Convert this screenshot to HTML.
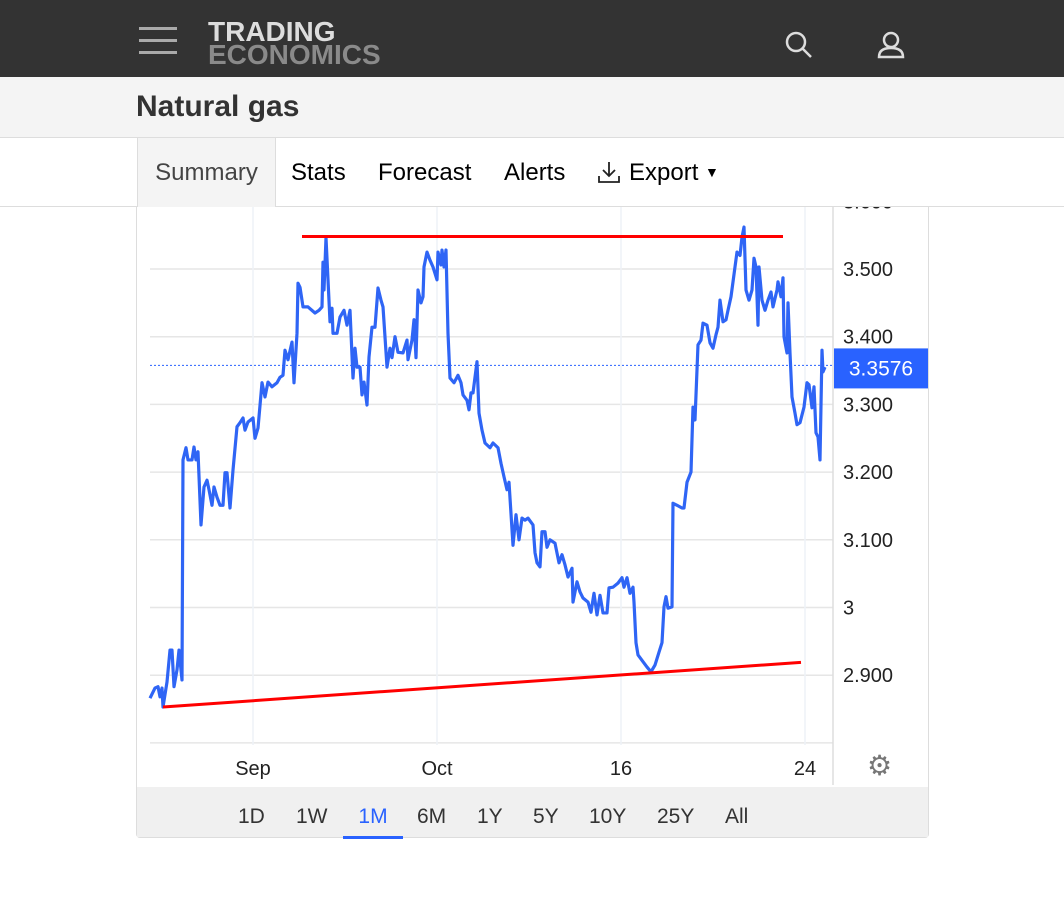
<!DOCTYPE html>
<html><head><meta charset="utf-8">
<style>
body{margin:0;width:1064px;height:901px;background:#fff;font-family:"Liberation Sans",Arial,sans-serif;position:relative;overflow:hidden}
.abs{position:absolute}
</style></head><body>
<div class="abs" style="left:0;top:0;width:1064px;height:77px;background:#333"></div>
<div class="abs" style="left:139px;top:27px;width:38px;height:30px">
 <div style="height:3px;background:#aaa;margin-bottom:9px"></div><div style="height:3px;background:#aaa;margin-bottom:9px"></div><div style="height:3px;background:#aaa"></div></div>
<div class="abs" style="left:208px;top:20px;font-weight:bold;font-size:28px;line-height:23px;letter-spacing:0px"><div style="color:#ddd">TRADING</div><div style="color:#8a8a8a">ECONOMICS</div></div>
<svg class="abs" style="left:784px;top:30px" width="30" height="30"><circle cx="12" cy="12" r="9" fill="none" stroke="#ddd" stroke-width="2.5"/><line x1="19" y1="19" x2="27" y2="27" stroke="#ddd" stroke-width="2.5"/></svg>
<svg class="abs" style="left:876px;top:30px" width="30" height="30"><circle cx="15" cy="10" r="7" fill="none" stroke="#ddd" stroke-width="2.5"/><path d="M3 27 Q3 18 15 18 Q27 18 27 27 Z" fill="none" stroke="#ddd" stroke-width="2.5"/></svg>
<div class="abs" style="left:0;top:77px;width:1064px;height:60px;background:#f4f4f4;border-bottom:1px solid #ddd"></div>
<div class="abs" style="left:136px;top:90px;font-size:30px;font-weight:bold;color:#333">Natural gas</div>
<div class="abs" style="left:0;top:206px;width:1064px;height:1px;background:#ddd"></div>
<div class="abs" style="left:137px;top:138px;width:137px;height:69px;background:#f4f4f4;border-left:1px solid #ddd;border-right:1px solid #ddd;font-size:24px;color:#444;text-align:center;line-height:70px">Summary</div>
<div class="abs" style="left:291px;top:159px;font-size:24px">Stats</div>
<div class="abs" style="left:378px;top:159px;font-size:24px">Forecast</div>
<div class="abs" style="left:504px;top:159px;font-size:24px">Alerts</div>
<svg class="abs" style="left:597px;top:160px" width="26" height="26"><path d="M12 2 V16 M6 10 L12 16 L18 10 M2 16 V22 H22 V16" fill="none" stroke="#222" stroke-width="1.8"/></svg>
<div class="abs" style="left:629px;top:159px;font-size:24px">Export <span style="font-size:14px;vertical-align:3px">▼</span></div>
<div class="abs" style="left:136px;top:207px;width:791px;height:630px;border:1px solid #ddd;border-top:none;border-radius:0 0 4px 4px"></div>
<div class="abs" style="left:137px;top:787px;width:791px;height:50px;background:#f0f0f0"></div>
<svg id="chart" class="abs" style="left:0;top:0" width="1064" height="901"></svg>
<script>
const times=[0,5,8,10,12,13,17,20,22,24,27,29,32,33,36,38,42,44,46,48,51,54,57,59,62,64,67,70,73,75,77,80,83,87,90,93,95,98,103,105,108,112,115,118,122,127,130,133,135,138,142,144,147,148,150,153,158,165,169,172,173,174,176,178,180,182,183,187,190,194,197,200,203,205,207,210,212,214,217,219,222,225,228,231,233,237,240,242,245,248,253,257,258,262,264,266,268,271,273,274,277,280,283,287,288,291,292,294,296,298,300,304,308,311,313,317,319,321,323,327,329,332,335,340,343,348,351,354,357,359,363,366,369,372,375,378,383,385,387,390,392,395,397,400,405,409,412,415,418,422,423,427,430,433,438,441,444,447,450,453,457,459,463,468,472,474,477,480,483,484,486,488,493,497,501,505,509,512,514,516,518,522,523,527,532,534,537,541,543,545,548,551,553,557,560,563,566,568,570,573,576,578,581,583,585,587,590,592,594,596,599,602,604,606,608,609,612,615,618,621,623,627,628,631,633,634,637,638,640,642,645,647,650,654,657,659,662,664,666,668,670,672,673,675];
const prices=[2.866,2.881,2.883,2.868,2.881,2.853,2.890,2.937,2.937,2.883,2.908,2.937,2.893,3.218,3.236,3.218,3.218,3.237,3.218,3.230,3.122,3.178,3.188,3.174,3.151,3.178,3.163,3.151,3.151,3.199,3.199,3.147,3.203,3.267,3.273,3.280,3.262,3.274,3.280,3.250,3.265,3.332,3.311,3.333,3.326,3.332,3.340,3.343,3.380,3.366,3.392,3.332,3.405,3.479,3.473,3.444,3.444,3.435,3.439,3.444,3.510,3.469,3.546,3.484,3.422,3.442,3.405,3.405,3.429,3.439,3.417,3.439,3.339,3.383,3.355,3.355,3.314,3.333,3.299,3.370,3.414,3.414,3.472,3.454,3.444,3.355,3.383,3.369,3.400,3.377,3.376,3.395,3.366,3.395,3.425,3.369,3.469,3.450,3.459,3.503,3.525,3.513,3.503,3.484,3.525,3.506,3.528,3.503,3.528,3.405,3.339,3.332,3.343,3.332,3.314,3.306,3.292,3.317,3.317,3.363,3.287,3.262,3.243,3.236,3.243,3.236,3.213,3.193,3.174,3.185,3.092,3.137,3.100,3.132,3.129,3.132,3.122,3.081,3.066,3.060,3.112,3.112,3.089,3.100,3.095,3.066,3.078,3.063,3.045,3.058,3.008,3.038,3.023,3.014,3.008,2.993,3.021,2.989,3.018,2.992,2.992,3.029,3.030,3.036,3.044,3.030,3.044,3.021,3.030,3.008,2.948,2.930,2.920,2.912,2.905,2.915,2.934,2.948,3.001,3.016,2.999,3.001,3.154,3.151,3.147,3.147,3.185,3.200,3.296,3.277,3.388,3.395,3.420,3.417,3.391,3.383,3.403,3.414,3.454,3.422,3.425,3.439,3.459,3.481,3.503,3.525,3.520,3.547,3.562,3.469,3.454,3.469,3.516,3.503,3.417,3.503,3.454,3.439,3.454,3.466,3.444,3.469,3.481,3.459,3.487,3.400,3.376,3.450,3.376,3.311,3.287,3.270,3.273,3.296,3.332,3.329,3.295,3.326,3.258,3.252,3.218,3.380,3.348,3.355];
const yTicks=[3.6,3.5,3.4,3.3,3.2,3.1,3.0,2.9,2.8];
const yTickLabels=["3.600","3.500","3.400","3.300","3.200","3.100","3","2.900",""];
const xTicks=[103,287,471,655];
const xTickLabels=["Sep","Oct","16","24"];
const lastPrice=3.3576;
const resistance=[[152,3.548],[633,3.548]];
const support=[[13,2.853],[651,2.919]];
const NS="http://www.w3.org/2000/svg";
const svg=document.getElementById('chart');
const X=t=>150+t;
const Y=v=>269+(3.5-v)*677;
function mk(tag,at,parent){const e=document.createElementNS(NS,tag);for(const k in at)e.setAttribute(k,at[k]);(parent||svg).appendChild(e);return e;}
const clip=mk('clipPath',{id:'cp'});mk('rect',{x:137,y:207,width:790,height:580},clip);
const g=mk('g',{'clip-path':'url(#cp)'});
yTicks.forEach((v,i)=>{
 const l=mk('line',{x1:150,x2:833,y1:Y(v),y2:Y(v),stroke:'#e6e6e6','stroke-width':1.5},g);
 
 
 const t=mk('text',{x:843,y:Y(v)+7,'font-size':20,fill:'#222','font-family':'Liberation Sans'},g);
 t.textContent=yTickLabels[i];
 
 
});
xTicks.forEach((tt,i)=>{
 const l=mk('line',{x1:X(tt),x2:X(tt),y1:207,y2:745,stroke:'#eef2f7','stroke-width':1.5},g);
 
 
 const t=mk('text',{x:X(tt),y:775,'font-size':20,fill:'#222','text-anchor':'middle','font-family':'Liberation Sans'},g);
 t.textContent=xTickLabels[i];
 
 
});
const ax=mk('line',{x1:833,x2:833,y1:207,y2:785,stroke:'#ddd','stroke-width':1.5},g);


const ll=mk('line',{x1:150,x2:833,y1:Y(lastPrice),y2:Y(lastPrice),stroke:'#2962ff','stroke-width':1,'stroke-dasharray':'2,2'},g);


const pl=mk('polyline',{points:times.map((t,i)=>X(t)+','+Y(prices[i])).join(' '),fill:'none',stroke:'#2f65f5','stroke-width':3.2,'stroke-linejoin':'round'},g);


[[resistance,'resistance-line'],[support,'support-line']].forEach(([p,n])=>{
 const l=mk('line',{x1:X(p[0][0]),y1:Y(p[0][1]),x2:X(p[1][0]),y2:Y(p[1][1]),stroke:'#ff0000','stroke-width':3},g);
 
 
});
const bx=mk('rect',{x:834,y:Y(lastPrice)-17,width:94,height:40,fill:'#2962ff'});


const bt=mk('text',{x:881,y:Y(lastPrice)+10,'font-size':21,fill:'#fff','text-anchor':'middle','font-family':'Liberation Sans'});
bt.textContent=lastPrice.toFixed(4);


</script>
<div class="abs" style="left:867px;top:749px;font-size:28px;color:#777">⚙</div>
<div class="abs" style="left:238px;top:805px;font-size:21px;color:#333">1D</div>
<div class="abs" style="left:296px;top:805px;font-size:21px;color:#333">1W</div>
<div class="abs" style="left:343px;top:805px;width:60px;text-align:center;font-size:21px;color:#2962ff;height:31px;border-bottom:3px solid #2962ff">1M</div>
<div class="abs" style="left:417px;top:805px;font-size:21px;color:#333">6M</div>
<div class="abs" style="left:477px;top:805px;font-size:21px;color:#333">1Y</div>
<div class="abs" style="left:533px;top:805px;font-size:21px;color:#333">5Y</div>
<div class="abs" style="left:589px;top:805px;font-size:21px;color:#333">10Y</div>
<div class="abs" style="left:657px;top:805px;font-size:21px;color:#333">25Y</div>
<div class="abs" style="left:725px;top:805px;font-size:21px;color:#333">All</div>
</body></html>
